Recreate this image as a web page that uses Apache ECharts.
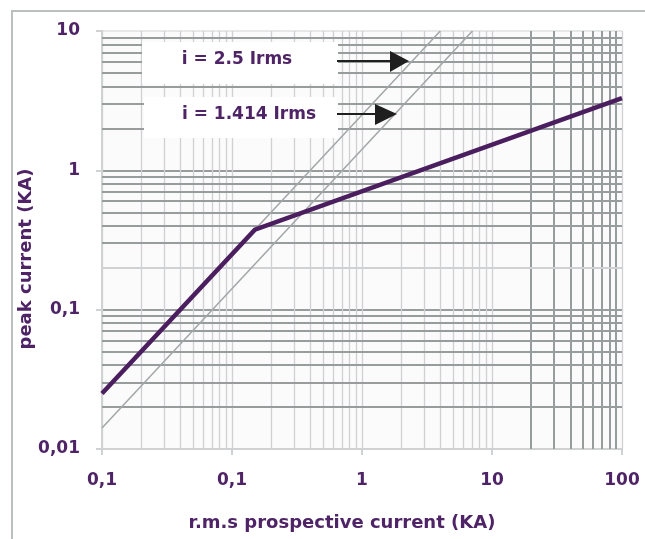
<!DOCTYPE html>
<html>
<head>
<meta charset="utf-8">
<script src="https://cdn.jsdelivr.net/npm/echarts@6/dist/echarts.min.js"></script>
<style>
  html, body { margin: 0; padding: 0; background: #ffffff; }
  #chart { width: 645px; height: 539px; }
</style>
</head>
<body>
<div id="chart"></div>
<script>
// Tick labels on the decade lines
const xDecades = [0.01, 0.1, 1, 10, 100];
const xTickLabels = ['0,1', '0,1', '1', '10', '100'];
const yDecades = [0.01, 0.1, 1, 10];
const yTickLabels = ['0,01', '0,1', '1', '10'];

// Peak current curve (two segments)
const peakX = [0.01, 0.15, 100];
const peakY = [0.025, 0.375, 3.3];

// Reference lines i = 2.5 Irms and i = 1.414 Irms
const line25X = [0.01, 4];
const line25Y = [0.025, 10];
const line1414X = [0.01, 7.07];
const line1414Y = [0.01414, 10];

// Intermediate grid steps inside each decade
const gridSteps = [2, 3, 4, 5, 6, 7, 8, 9];

const PURPLE = '#4b1e5f';
const TEXT = '#4f2467';
const DARK = '#979c9d';
const LIGHT = '#cfd1d2';
const FONT = '"DejaVu Sans"';

function pairs(xs, ys) { return xs.map((x, i) => [x, ys[i]]); }
function decadeLabel(decades, labels) {
  return v => {
    const i = decades.findIndex(d => Math.abs(Math.log10(v) - Math.log10(d)) < 1e-6);
    return i >= 0 ? labels[i] : '';
  };
}

// Vertical grid lines: light in the first three decades, heavy in the last one
const vLines = [];
xDecades.slice(0, -1).forEach(d => {
  gridSteps.forEach(s => {
    const heavy = d >= 10;
    vLines.push({ xAxis: d * s, lineStyle: { color: heavy ? DARK : LIGHT, width: heavy ? 2 : 1.3, type: 'solid' } });
  });
});
// Horizontal grid lines: heavy, except the 0.2 line
const hLines = [];
yDecades.slice(0, -1).forEach(d => {
  gridSteps.forEach(s => {
    const v = +(d * s).toPrecision(3);
    const light = Math.abs(v - 0.2) < 1e-9;
    hLines.push({ yAxis: v, lineStyle: { color: light ? LIGHT : DARK, width: 2, type: 'solid' } });
  });
});

const chart = echarts.init(document.getElementById('chart'), null, { renderer: 'canvas' });

const labelFont = 'bold 17px "DejaVu Sans"';
const titleFont = 'bold 18px "DejaVu Sans"';

chart.setOption({
  animation: false,
  backgroundColor: '#ffffff',
  grid: {
    left: 102, right: 23, top: 31, bottom: 90,
    show: true, backgroundColor: '#fbfbfb', borderWidth: 0
  },
  xAxis: {
    type: 'log', logBase: 10, min: 0.01, max: 100,
    axisLine: { show: true, lineStyle: { color: LIGHT, width: 2 } },
    axisTick: { show: true, length: 6, lineStyle: { color: LIGHT, width: 2 } },
    axisLabel: {
      formatter: decadeLabel(xDecades, xTickLabels),
      color: TEXT, fontFamily: FONT, fontWeight: 'bold', fontSize: 17, margin: 23
    },
    splitLine: { show: true, lineStyle: { color: LIGHT, width: 1.3 } },
    minorTick: { show: false }, minorSplitLine: { show: false }
  },
  yAxis: {
    type: 'log', logBase: 10, min: 0.01, max: 10,
    axisLine: { show: true, lineStyle: { color: LIGHT, width: 2 } },
    axisTick: { show: true, length: 6, lineStyle: { color: LIGHT, width: 2 } },
    axisLabel: {
      formatter: decadeLabel(yDecades, yTickLabels),
      color: TEXT, fontFamily: FONT, fontWeight: 'bold', fontSize: 17, margin: 22
    },
    splitLine: { show: true, lineStyle: { color: [LIGHT, DARK, DARK, '#e6e7e8'], width: 2 } },
    minorTick: { show: false }, minorSplitLine: { show: false }
  },
  series: [
    {
      name: 'grid', type: 'line', data: [], z: 1, silent: true,
      markLine: {
        z: 1, silent: true, symbol: 'none', label: { show: false },
        emphasis: { disabled: true },
        data: vLines.concat(hLines)
      }
    },
    {
      name: 'i = 1.414 Irms', type: 'line', data: pairs(line1414X, line1414Y),
      showSymbol: false, silent: true, z: 4,
      lineStyle: { color: '#a2a6a7', width: 1.5 }
    },
    {
      name: 'i = 2.5 Irms', type: 'line', data: pairs(line25X, line25Y),
      showSymbol: false, silent: true, z: 4,
      lineStyle: { color: '#a2a6a7', width: 1.5 }
    },
    {
      name: 'peak current', type: 'line', data: pairs(peakX, peakY),
      showSymbol: false, silent: true, z: 6,
      lineStyle: { color: PURPLE, width: 4.5, join: 'miter' }
    }
  ],
  graphic: [
    // outer frame
    { type: 'rect', z: 0, silent: true,
      shape: { x: 12, y: 11, width: 660, height: 600 },
      style: { fill: 'none', stroke: '#bcbfc0', lineWidth: 2 } },
    // label boxes
    { type: 'rect', z: 3, silent: true,
      shape: { x: 142, y: 42, width: 196, height: 42 }, style: { fill: '#ffffff' } },
    { type: 'rect', z: 3, silent: true,
      shape: { x: 144, y: 97, width: 194, height: 41 }, style: { fill: '#ffffff' } },
    { type: 'text', z: 10, silent: true, x: 237, y: 60,
      style: { text: 'i = 2.5 Irms', fill: TEXT, font: labelFont, align: 'center', verticalAlign: 'middle' } },
    { type: 'text', z: 10, silent: true, x: 249, y: 115,
      style: { text: 'i = 1.414 Irms', fill: TEXT, font: labelFont, align: 'center', verticalAlign: 'middle' } },
    // arrows
    { type: 'line', z: 10, silent: true, shape: { x1: 337, y1: 61, x2: 392, y2: 61 },
      style: { stroke: '#1f1f1f', lineWidth: 2 } },
    { type: 'polygon', z: 10, silent: true, shape: { points: [[390, 51], [409, 61], [390, 72]] },
      style: { fill: '#1f1f1f' } },
    { type: 'line', z: 10, silent: true, shape: { x1: 337, y1: 114, x2: 378, y2: 114 },
      style: { stroke: '#1f1f1f', lineWidth: 2 } },
    { type: 'polygon', z: 10, silent: true, shape: { points: [[375, 104], [397, 114], [375, 125]] },
      style: { fill: '#1f1f1f' } },
    // axis titles
    { type: 'text', z: 10, silent: true, x: 342, y: 523,
      style: { text: 'r.m.s prospective current (KA)', fill: TEXT, font: titleFont, align: 'center', verticalAlign: 'middle' } },
    { type: 'text', z: 10, silent: true, x: 26, y: 259, rotation: Math.PI / 2,
      style: { text: 'peak current (KA)', fill: TEXT, font: titleFont, align: 'center', verticalAlign: 'middle' } }
  ]
});
</script>
</body>
</html>
